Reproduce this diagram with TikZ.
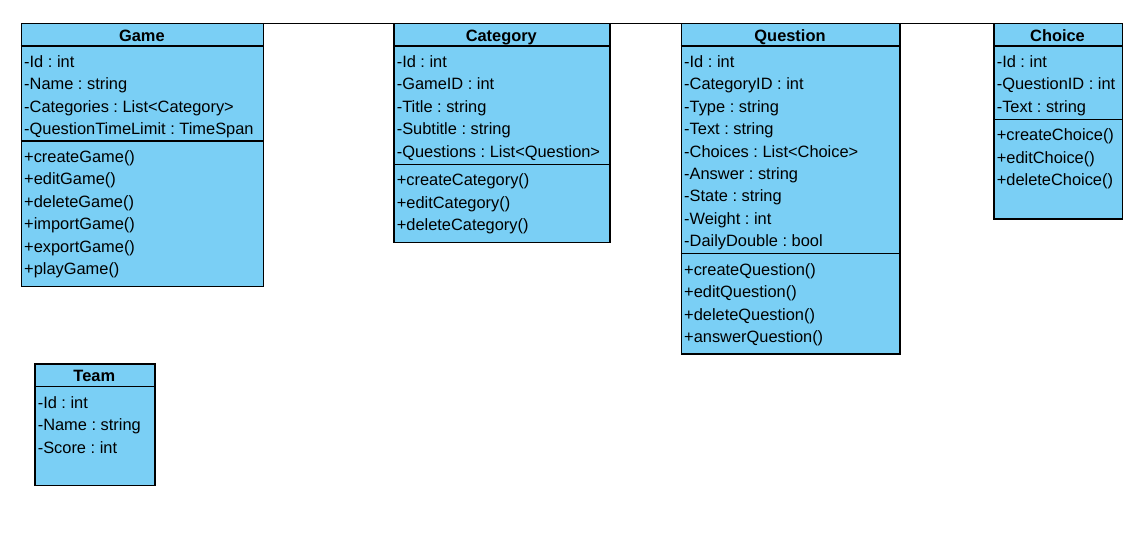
\documentclass[tikz,border=0pt]{standalone}
\usepackage{fontspec}
\setmainfont{Liberation Sans}
\definecolor{umlblue}{RGB}{122,207,245}
\newcommand\classmembers[4]{%
  \foreach \t [count=\i] in {#4} {\node[member] (#1\i) at (#2, {#3+22.4*(\i-1)}) {\t};}}
\frenchspacing
\begin{document}
\begin{tikzpicture}[x=1pt,y=-1pt,
  classbox/.style={draw=black, fill=umlblue, line width=1.2pt, inner sep=0pt, anchor=north west},
  sepline/.style={draw=black, line width=1.2pt},
  conn/.style={draw=black, line width=1pt},
  member/.style={anchor=base west, inner sep=0pt, font=\frenchspacing\fontsize{16.4}{16.4}\selectfont},
  ctitle/.style={anchor=base, inner sep=0pt, font=\bfseries\fontsize{16.4}{16.4}\selectfont}]
\useasboundingbox[fill=white] (0,0) rectangle (1138,551);

% Game
\node[classbox, minimum width=242.3pt, minimum height=262.4pt] (game) at (20.7,23.3) {};
\node[ctitle] (gameT) at (141.85,41.6) {Game};
\draw[sepline] (20.7,46) -- (263,46);
\draw[sepline] (20.7,141) -- (263,141);
\classmembers{gameA}{24}{67.5}{-Id : int,-Name : string,-Categories : List<Category>,-QuestionTimeLimit : TimeSpan}
\classmembers{gameO}{24}{162.5}{+createGame(),+editGame(),+deleteGame(),+importGame(),+exportGame(),+playGame()}

% Category
\node[classbox, minimum width=216pt, minimum height=218.4pt] (category) at (393.3,23.3) {};
\node[ctitle] (categoryT) at (501.3,41.6) {Category};
\draw[sepline] (393.3,46) -- (609.3,46);
\draw[sepline] (393.3,164.3) -- (609.3,164.3);
\classmembers{categoryA}{396.6}{67.5}{-Id : int,-GameID : int,-Title : string,-Subtitle : string,-Questions : List<Question>}
\classmembers{categoryO}{396.6}{185.8}{+createCategory(),+editCategory(),+deleteCategory()}

% Question
\node[classbox, minimum width=218.6pt, minimum height=330pt] (question) at (680.7,23.3) {};
\node[ctitle] (questionT) at (790,41.6) {Question};
\draw[sepline] (680.7,46) -- (899.3,46);
\draw[sepline] (680.7,253.7) -- (899.3,253.7);
\classmembers{questionA}{684}{67.5}{-Id : int,-CategoryID : int,-Type : string,-Text : string,-Choices : List<Choice>,-Answer : string,-State : string,-Weight : int,-DailyDouble : bool}
\classmembers{questionO}{684}{275.2}{+createQuestion(),+editQuestion(),+deleteQuestion(),+answerQuestion()}

% Choice
\node[classbox, minimum width=128.4pt, minimum height=195pt] (choice) at (993.3,23.3) {};
\node[ctitle] (choiceT) at (1057.5,41.6) {Choice};
\draw[sepline] (993.3,46) -- (1121.7,46);
\draw[sepline] (993.3,119.3) -- (1121.7,119.3);
\classmembers{choiceA}{996.6}{67.5}{-Id : int,-QuestionID : int,-Text : string}
\classmembers{choiceO}{996.6}{140.8}{+createChoice(),+editChoice(),+deleteChoice()}

% Team
\node[classbox, minimum width=120pt, minimum height=121.7pt] (team) at (34.3,363.3) {};
\node[ctitle] (teamT) at (94.3,381.6) {Team};
\draw[sepline] (34.3,386.7) -- (154.3,386.7);
\classmembers{teamA}{37.6}{408.2}{-Id : int,-Name : string,-Score : int}

% connectors
\draw[conn] (game.north east) -- (category.north west);
\draw[conn] (category.north east) -- (question.north west);
\draw[conn] (question.north east) -- (choice.north west);
\end{tikzpicture}
\end{document}
